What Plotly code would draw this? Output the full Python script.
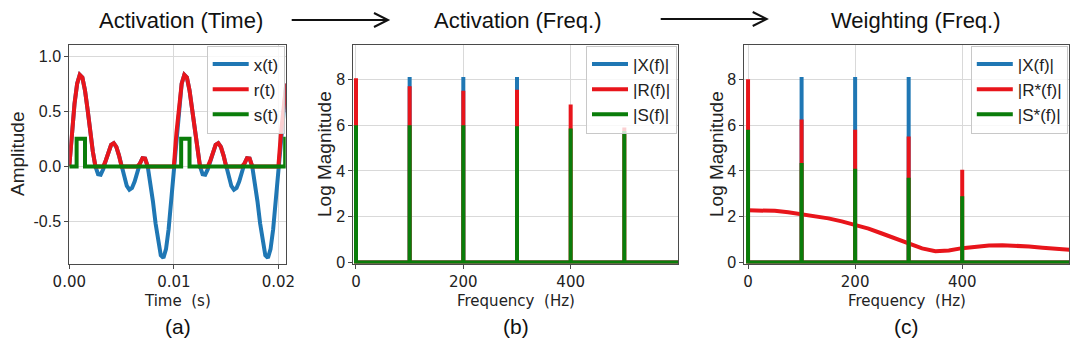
import plotly.graph_objects as go

# ---------------- data ----------------
# time axis (s) and signals for panel (a)
t = [0.0, 0.00025, 0.0005, 0.00075, 0.001, 0.00125, 0.0015, 0.00175, 0.002, 0.00225,
     0.0025, 0.00275, 0.003, 0.00325, 0.0035, 0.00375, 0.004, 0.00425, 0.0045, 0.00475,
     0.005, 0.00525, 0.0055, 0.00575, 0.006, 0.00625, 0.0065, 0.00675, 0.007, 0.00725,
     0.0075, 0.00775, 0.008, 0.00825, 0.0085, 0.00875, 0.009, 0.00925, 0.0095, 0.00975,
     0.01, 0.01025, 0.0105, 0.01075, 0.011, 0.01125, 0.0115, 0.01175, 0.012, 0.01225,
     0.0125, 0.01275, 0.013, 0.01325, 0.0135, 0.01375, 0.014, 0.01425, 0.0145, 0.01475,
     0.015, 0.01525, 0.0155, 0.01575, 0.016, 0.01625, 0.0165, 0.01675, 0.017, 0.01725,
     0.0175, 0.01775, 0.018, 0.01825, 0.0185, 0.01875, 0.019, 0.01925, 0.0195, 0.01975,
     0.02, 0.02025, 0.0205, 0.02075]
x_t = [0.0, 0.306, 0.569, 0.750, 0.830, 0.805, 0.690, 0.515, 0.317, 0.135,
       0.0, -0.071, -0.075, -0.025, 0.056, 0.138, 0.196, 0.211, 0.177, 0.100,
       0.0, -0.100, -0.177, -0.211, -0.196, -0.138, -0.056, 0.025, 0.075, 0.071,
       0.0, -0.135, -0.317, -0.515, -0.690, -0.805, -0.830, -0.750, -0.569, -0.306,
       0.0, 0.306, 0.569, 0.750, 0.830, 0.805, 0.690, 0.515, 0.317, 0.135,
       0.0, -0.071, -0.075, -0.025, 0.056, 0.138, 0.196, 0.211, 0.177, 0.100,
       0.0, -0.100, -0.177, -0.211, -0.196, -0.138, -0.056, 0.025, 0.075, 0.071,
       0.0, -0.135, -0.317, -0.515, -0.690, -0.805, -0.830, -0.750, -0.569, -0.306,
       0.0, 0.306, 0.569, 0.750]
r_t = [0.0, 0.306, 0.569, 0.750, 0.830, 0.805, 0.690, 0.515, 0.317, 0.135,
       0.0, 0.0, 0.0, 0.0, 0.056, 0.138, 0.196, 0.211, 0.177, 0.100,
       0.0, 0.0, 0.0, 0.0, 0.0, 0.0, 0.0, 0.025, 0.075, 0.071,
       0.0, 0.0, 0.0, 0.0, 0.0, 0.0, 0.0, 0.0, 0.0, 0.0,
       0.0, 0.306, 0.569, 0.750, 0.830, 0.805, 0.690, 0.515, 0.317, 0.135,
       0.0, 0.0, 0.0, 0.0, 0.056, 0.138, 0.196, 0.211, 0.177, 0.100,
       0.0, 0.0, 0.0, 0.0, 0.0, 0.0, 0.0, 0.025, 0.075, 0.071,
       0.0, 0.0, 0.0, 0.0, 0.0, 0.0, 0.0, 0.0, 0.0, 0.0,
       0.0, 0.306, 0.569, 0.750]
s_time = [0.0, 0.0007, 0.0007, 0.0015, 0.0015, 0.0107, 0.0107, 0.0115, 0.0115, 0.02065, 0.02065, 0.021]
s_vals = [0.0, 0.0, 0.25, 0.25, 0.0, 0.0, 0.25, 0.25, 0.0, 0.0, 0.25, 0.25]

# spectra (log magnitude) at harmonic frequencies
freqs = [0, 100, 200, 300, 400, 500]
X_f = [0.0, 8.1, 8.1, 8.1, 0.0, 0.0]
R_f = [8.05, 7.7, 7.5, 7.55, 6.9, 5.9]
S_f = [6.0, 6.0, 6.0, 5.95, 5.85, 5.75]
Rw_f = [8.0, 6.25, 5.8, 5.5, 4.05, 0.0]
Sw_f = [5.8, 4.35, 4.1, 3.7, 2.9, 0.0]
f_max = 600

# weighting curve (panel c)
w_freq = [0, 25, 50, 75, 100, 125, 150, 175, 200, 225, 250, 275, 300, 325, 350,
          375, 400, 425, 450, 475, 500, 525, 550, 575, 600]
w_vals = [2.28, 2.28, 2.26, 2.2, 2.12, 2.04, 1.93, 1.8, 1.65, 1.48, 1.27, 1.05, 0.82,
          0.62, 0.5, 0.53, 0.63, 0.7, 0.75, 0.76, 0.74, 0.7, 0.65, 0.6, 0.56]

titles = ["Activation (Time)", "Activation (Freq.)", "Weighting (Freq.)"]
panel_labels = ["(a)", "(b)", "(c)"]

# ---------------- styling ----------------
W, H = 1080, 342
BLUE, RED, GREEN = "#1f77b4", "#e8151b", "#0a7d0a"
FRAME = "#4a4a4a"
GRID = "#d9d9d9"
SANS = "Liberation Sans, Arial, sans-serif"
DEJA = "DejaVu Sans, sans-serif"


def px(x):
    return x / W


def py(y):
    return 1 - y / H


def stem_xy(fr, vals, fmax):
    xs, ys = [], []
    for f, v in zip(fr, vals):
        xs += [f, f, f]
        ys += [0, v, 0]
    xs.append(fmax)
    ys.append(0)
    return xs, ys


fig = go.Figure()

# panel (a)
fig.add_trace(go.Scatter(x=t, y=x_t, mode="lines", name="x(t)", line=dict(color=BLUE, width=4),
                         xaxis="x", yaxis="y", legend="legend"))
fig.add_trace(go.Scatter(x=t, y=r_t, mode="lines", name="r(t)", line=dict(color=RED, width=4),
                         xaxis="x", yaxis="y", legend="legend"))
fig.add_trace(go.Scatter(x=s_time, y=s_vals, mode="lines", name="s(t)", line=dict(color=GREEN, width=4),
                         xaxis="x", yaxis="y", legend="legend"))

# panel (b)
for name, vals, col in [("|X(f)|", X_f, BLUE), ("|R(f)|", R_f, RED), ("|S(f)|", S_f, GREEN)]:
    xs, ys = stem_xy(freqs, vals, f_max)
    fig.add_trace(go.Scatter(x=xs, y=ys, mode="lines", name=name, line=dict(color=col, width=4),
                             xaxis="x2", yaxis="y2", legend="legend2"))

# panel (c)
xs, ys = stem_xy(freqs, X_f, f_max)
fig.add_trace(go.Scatter(x=xs, y=ys, mode="lines", name="|X(f)|", line=dict(color=BLUE, width=4),
                         xaxis="x3", yaxis="y3", legend="legend3"))
xs, ys = stem_xy(freqs, Rw_f, f_max)
fig.add_trace(go.Scatter(x=xs, y=ys, mode="lines", name="|R*(f)|", line=dict(color=RED, width=4),
                         xaxis="x3", yaxis="y3", legend="legend3"))
fig.add_trace(go.Scatter(x=w_freq, y=w_vals, mode="lines", showlegend=False,
                         line=dict(color=RED, width=4), xaxis="x3", yaxis="y3"))
xs, ys = stem_xy(freqs, Sw_f, f_max)
fig.add_trace(go.Scatter(x=xs, y=ys, mode="lines", name="|S*(f)|", line=dict(color=GREEN, width=4),
                         xaxis="x3", yaxis="y3", legend="legend3"))

common_axis = dict(showline=True, mirror=True, linecolor=FRAME, linewidth=1, showgrid=True,
                   gridcolor=GRID, gridwidth=1, zeroline=False, ticks="outside", ticklen=4,
                   tickcolor=FRAME, automargin=False)
xfont = dict(family=DEJA, size=15, color="#222")
yfont = dict(family=SANS, size=16, color="#222")

top, bottom = 45, 263.5
doms = [(69.3, 285.7), (353.3, 678.0), (744.3, 1069.3)]

layout = dict(
    width=W, height=H, margin=dict(l=0, r=0, t=0, b=0, autoexpand=False),
    plot_bgcolor="white", paper_bgcolor="white",
    xaxis=dict(domain=[px(doms[0][0]), px(doms[0][1])], range=[0, 0.0207], anchor="y",
               tickvals=[0, 0.01, 0.02], ticktext=["0.00", "0.01", "0.02"], tickfont=xfont, **common_axis),
    yaxis=dict(domain=[py(bottom), py(top)], range=[-0.88, 1.1], anchor="x",
               tickvals=[-0.5, 0, 0.5, 1.0], ticktext=["-0.5", "0.0", "0.5", "1.0"], tickfont=yfont,
               **common_axis),
    xaxis2=dict(domain=[px(doms[1][0]), px(doms[1][1])], range=[-5, 600], anchor="y2",
                tickvals=[0, 200, 400], ticktext=["0", "200", "400"], tickfont=xfont, **common_axis),
    yaxis2=dict(domain=[py(bottom), py(top)], range=[-0.04, 9.5], anchor="x2",
                tickvals=[0, 2, 4, 6, 8], ticktext=["0", "2", "4", "6", "8"], tickfont=yfont, **common_axis),
    xaxis3=dict(domain=[px(doms[2][0]), px(doms[2][1])], range=[-7, 600], anchor="y3",
                tickvals=[0, 200, 400], ticktext=["0", "200", "400"], tickfont=xfont, **common_axis),
    yaxis3=dict(domain=[py(bottom), py(top)], range=[-0.04, 9.5], anchor="x3",
                tickvals=[0, 2, 4, 6, 8], ticktext=["0", "2", "4", "6", "8"], tickfont=yfont, **common_axis),
)

leg_common = dict(xanchor="right", yanchor="top", bgcolor="rgba(255,255,255,0.8)",
                  bordercolor="#c8c8c8", borderwidth=1, font=dict(family=SANS, size=17, color="#222"),
                  tracegroupgap=0, itemwidth=36)
layout["legend"] = dict(x=px(doms[0][1] - 1), y=py(top + 0.5), **leg_common)
layout["legend2"] = dict(x=px(doms[1][1] - 1), y=py(top + 0.5), **leg_common)
layout["legend3"] = dict(x=px(doms[2][1] - 1.5), y=py(top + 0.5), **leg_common)

annotations = []
title_x = [180.5, 518, 916]
for tx, txt in zip(title_x, titles):
    annotations.append(dict(x=px(tx), y=py(20), xref="paper", yref="paper", text=txt, showarrow=False,
                            xanchor="center", yanchor="middle", font=dict(family=SANS, size=22, color="#111")))
for (a, b), lab, xt in zip(doms, panel_labels, ["Time  (s)", "Frequency  (Hz)", "Frequency  (Hz)"]):
    cx = (a + b) / 2
    annotations.append(dict(x=px(cx), y=py(301), xref="paper", yref="paper", text=xt, showarrow=False,
                            xanchor="center", yanchor="middle", font=dict(family=DEJA, size=15, color="#222")))
    annotations.append(dict(x=px(cx), y=py(326), xref="paper", yref="paper", text=lab, showarrow=False,
                            xanchor="center", yanchor="middle", font=dict(family=SANS, size=21, color="#111")))
for lx, txt in [(18, "Amplitude"), (325, "Log Magnitude"), (717, "Log Magnitude")]:
    annotations.append(dict(x=px(lx), y=py(154), xref="paper", yref="paper", text=txt, showarrow=False,
                            textangle=-90, xanchor="center", yanchor="middle",
                            font=dict(family=SANS, size=19, color="#222")))
layout["annotations"] = annotations

shapes = []
for x0, x1, yy in [(291.7, 388.0, 20), (660.7, 766.7, 19)]:
    path = (f"M {px(x0)},{py(yy)} L {px(x1)},{py(yy)} "
            f"M {px(x1 - 14)},{py(yy - 7)} L {px(x1)},{py(yy)} L {px(x1 - 14)},{py(yy + 7)}")
    shapes.append(dict(type="path", xref="paper", yref="paper", path=path,
                       line=dict(color="#111", width=2)))
layout["shapes"] = shapes

fig.update_layout(**layout)
fig.write_html("out.html")
